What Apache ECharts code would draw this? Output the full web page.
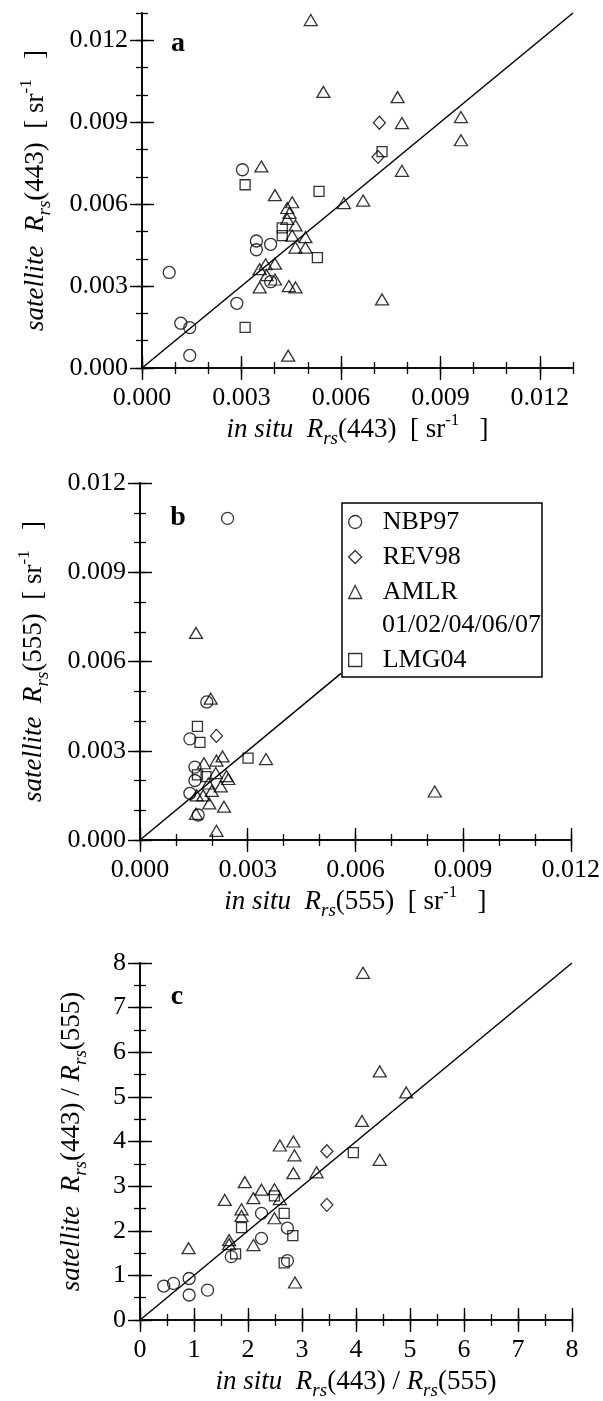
<!DOCTYPE html>
<html><head><meta charset="utf-8">
<script src="https://cdn.jsdelivr.net/npm/echarts@6/dist/echarts.min.js"></script>
<style>html,body{margin:0;padding:0;background:#fff}#c{width:603px;height:1401px}</style>
</head><body><div id="c"></div>
<script>
// ---------- Panel a: in situ vs satellite Rrs(443) [sr^-1] ----------
const aNBP97 = [[0.00303,0.00726],[0.00345,0.00465],[0.00345,0.00433],[0.00388,0.00453],[0.00082,0.00350],[0.00388,0.00316],[0.00286,0.00237],[0.00117,0.00164],[0.00144,0.00148],[0.00144,0.00046]];
const aREV98 = [[0.00716,0.00898],[0.00712,0.00773]];
const aAMLR = [[0.00509,0.01274],[0.00547,0.01011],[0.00771,0.00992],[0.00784,0.00897],[0.00962,0.00919],[0.00962,0.00834],[0.00784,0.00722],[0.00360,0.00738],[0.00401,0.00633],[0.00609,0.00604],[0.00667,0.00613],[0.00453,0.00607],[0.00438,0.00586],[0.00445,0.00568],[0.00438,0.00546],[0.00463,0.00522],[0.00453,0.00485],[0.00493,0.00479],[0.00463,0.00441],[0.00493,0.00441],[0.00373,0.00380],[0.00401,0.00382],[0.00355,0.00362],[0.00376,0.00340],[0.00401,0.00324],[0.00355,0.00295],[0.00443,0.00300],[0.00463,0.00295],[0.00724,0.00251],[0.00441,0.00045]];
const aLMG04 = [[0.00311,0.00671],[0.00534,0.00647],[0.00423,0.00513],[0.00423,0.00485],[0.00529,0.00404],[0.00311,0.00149],[0.00724,0.00792]];
const aOneToOne = [[0,0],[0.013,0.013]];
const aTicks = [0, 0.003, 0.006, 0.009, 0.012];
const aTickLabels = ['0.000','0.003','0.006','0.009','0.012'];

// ---------- Panel b: in situ vs satellite Rrs(555) [sr^-1] ----------
const bNBP97 = [[0.00244,0.01081],[0.00186,0.00464],[0.00139,0.00340],[0.00153,0.00245],[0.00153,0.00200],[0.00139,0.00157],[0.00162,0.00084]];
const bREV98 = [[0.00213,0.00350]];
const bAMLR = [[0.00156,0.00696],[0.00197,0.00475],[0.00230,0.00281],[0.00213,0.00267],[0.00178,0.00258],[0.00351,0.00272],[0.00821,0.00163],[0.00234,0.00112],[0.00193,0.00123],[0.00213,0.00031],[0.00156,0.00088],[0.00211,0.00225],[0.00241,0.00215],[0.00246,0.00205],[0.00225,0.00180],[0.00190,0.00190],[0.00158,0.00150],[0.00176,0.00150],[0.00200,0.00165]];
const bLMG04 = [[0.00160,0.00382],[0.00167,0.00328],[0.00301,0.00275],[0.00160,0.00219],[0.00184,0.00213]];
const bOneToOne = [[0,0],[0.0056,0.0056]];
const bTicks = [0, 0.003, 0.006, 0.009, 0.012];
const bTickLabels = ['0.000','0.003','0.006','0.009','0.012'];

// ---------- Panel c: in situ vs satellite Rrs(443)/Rrs(555) ----------
const cNBP97 = [[2.25,2.39],[2.73,2.06],[2.25,1.83],[0.44,0.76],[0.62,0.82],[0.91,0.93],[0.91,0.56],[1.25,0.67],[1.69,1.42],[2.73,1.33]];
const cREV98 = [[3.46,3.78],[3.46,2.58]];
const cAMLR = [[4.13,7.78],[4.44,5.57],[4.93,5.10],[4.11,4.46],[4.44,3.59],[2.59,3.91],[2.84,4.00],[2.86,3.69],[2.84,3.29],[3.27,3.31],[1.94,3.09],[2.25,2.92],[2.49,2.93],[2.10,2.73],[2.59,2.71],[1.57,2.69],[1.88,2.48],[1.88,2.33],[2.49,2.28],[0.90,1.61],[1.65,1.79],[1.65,1.70],[2.10,1.68],[2.87,0.84]];
const cLMG04 = [[3.95,3.75],[2.49,2.78],[2.67,2.39],[1.88,2.07],[2.83,1.89],[1.77,1.48],[2.67,1.28]];
const cOneToOne = [[0,0],[8,8]];
const cTicks = [0,1,2,3,4,5,6,7,8];
const cTickLabels = ['0','1','2','3','4','5','6','7','8'];

const FONT = "'Liberation Serif','Times New Roman',serif";
const BLACK = '#000';
const rich = {
  n: {fontFamily: FONT, fontSize: 27, lineHeight: 36, verticalAlign: 'middle', color: BLACK},
  it: {fontFamily: FONT, fontSize: 27, lineHeight: 36, fontStyle: 'italic', verticalAlign: 'middle', color: BLACK},
  sub: {fontFamily: FONT, fontSize: 19, lineHeight: 18, fontStyle: 'italic', verticalAlign: 'bottom', color: BLACK},
  sup: {fontFamily: FONT, fontSize: 17, lineHeight: 17, verticalAlign: 'top', color: BLACK}
};

const grids = [
  {left: 142, top: 13, width: 431, height: 355},
  {left: 140, top: 483, width: 432, height: 357},
  {left: 140, top: 963, width: 432, height: 357}
];

const xAxes = [], yAxes = [];
function addAxes(g, max, majorTicks, labels, minorStep, xName, yName, xGap, yGap) {
  const lab = v => { const i = majorTicks.findIndex(t => Math.abs(t - v) < 1e-9); return i >= 0 ? labels[i] : ''; };
  const line = {show: true, lineStyle: {color: BLACK, width: 1.6}};
  const common = {gridIndex: g, type: 'value', min: 0, max: max, splitLine: {show: false}};
  ['x','y'].forEach(dim => {
    const arr = dim === 'x' ? xAxes : yAxes;
    const sides = dim === 'x' ? ['bottom','top'] : ['left','right'];
    sides.forEach((side, si) => {
      const major = Object.assign({}, common, {
        position: side,
        interval: majorTicks[1] - majorTicks[0],
        axisLine: line,
        axisTick: {show: true, inside: true, length: 12, customValues: majorTicks, lineStyle: {color: BLACK, width: 1.4}},
        axisLabel: si === 0 ? {show: true, customValues: majorTicks, formatter: lab, fontFamily: FONT, fontSize: 26, color: BLACK, margin: dim === 'x' ? 17 : 14} : {show: false}
      });
      if (si === 0) {
        major.name = dim === 'x' ? xName : yName;
        major.nameLocation = 'middle';
        major.nameGap = dim === 'x' ? xGap : yGap;
        major.nameTextStyle = {rich: rich, fontFamily: FONT, fontSize: 27, color: BLACK};
        if (dim === 'y') major.nameRotate = 90;
      }
      arr.push(major);
      arr.push(Object.assign({}, common, {
        position: side,
        interval: minorStep,
        axisLine: {show: false},
        axisTick: {show: true, inside: true, length: 6, lineStyle: {color: BLACK, width: 1.3}},
        axisLabel: {show: false}
      }));
    });
  });
}
addAxes(0, 0.013, aTicks, aTickLabels, 0.001,
  '{it|in situ}{n|  }{it|R}{sub|rs}{n|(443)  [ sr}{sup|-1}{n|   ]}',
  '{it|satellite}{n|  }{it|R}{sub|rs}{n|(443)  [ sr}{sup|-1}{n|   ]}', 44, 88);
addAxes(1, 0.012, bTicks, bTickLabels, 0.001,
  '{it|in situ}{n|  }{it|R}{sub|rs}{n|(555)  [ sr}{sup|-1}{n|   ]}',
  '{it|satellite}{n|  }{it|R}{sub|rs}{n|(555)  [ sr}{sup|-1}{n|   ]}', 44, 88);
addAxes(2, 8, cTicks, cTickLabels, 0.5,
  '{it|in situ}{n|  }{it|R}{sub|rs}{n|(443) / }{it|R}{sub|rs}{n|(555)}',
  '{it|satellite}{n|  }{it|R}{sub|rs}{n|(443) / }{it|R}{sub|rs}{n|(555)}', 44, 50);

const sym = {NBP97: ['circle', 12], REV98: ['diamond', [12, 13]], AMLR: ['triangle', [13, 11]], LMG04: ['rect', 10]};
const markStyle = {color: 'rgba(0,0,0,0)', borderColor: BLACK, borderWidth: 1.3};
const series = [];
const panels = [
  {NBP97: aNBP97, REV98: aREV98, AMLR: aAMLR, LMG04: aLMG04, line: aOneToOne},
  {NBP97: bNBP97, REV98: bREV98, AMLR: bAMLR, LMG04: bLMG04, line: bOneToOne},
  {NBP97: cNBP97, REV98: cREV98, AMLR: cAMLR, LMG04: cLMG04, line: cOneToOne}
];
panels.forEach((p, g) => {
  series.push({type: 'line', xAxisIndex: g * 4, yAxisIndex: g * 4, data: p.line, symbol: 'none',
    lineStyle: {color: BLACK, width: 1.5}, silent: true, z: 1, animation: false});
  ['NBP97','REV98','AMLR','LMG04'].forEach(k => {
    series.push({type: 'scatter', name: k, xAxisIndex: g * 4, yAxisIndex: g * 4, data: p[k],
      symbol: sym[k][0], symbolSize: sym[k][1], itemStyle: markStyle, z: 3, animation: false,
      emphasis: {disabled: true}});
  });
});

const legendCommon = {
  orient: 'vertical', left: 348, itemWidth: 13, itemHeight: 13, itemGap: 9, padding: 0,
  selectedMode: false, z: 6,
  itemStyle: {color: 'rgba(0,0,0,0)', borderColor: BLACK, borderWidth: 1.3},
  textStyle: {fontFamily: FONT, fontSize: 26, lineHeight: 26, color: BLACK, padding: [0, 0, 0, 16]}
};

const chart = echarts.init(document.getElementById('c'), null, {renderer: 'canvas'});
chart.setOption({
  backgroundColor: '#fff',
  animation: false,
  grid: grids,
  xAxis: xAxes,
  yAxis: yAxes,
  series: series,
  legend: [
    Object.assign({}, legendCommon, {data: ['NBP97','REV98','AMLR'], top: 509}),
    Object.assign({}, legendCommon, {data: ['LMG04'], top: 647})
  ],
  graphic: [
    {type: 'rect', shape: {x: 342, y: 503, width: 200, height: 174}, style: {fill: 'none', stroke: BLACK, lineWidth: 1.5}, z: 5},
    {type: 'text', x: 382, y: 625, style: {text: '01/02/04/06/07', font: "26px " + FONT, fill: BLACK, verticalAlign: 'middle'}, z: 6},
    {type: 'text', x: 178, y: 43.5, style: {text: 'a', font: "bold 28px " + FONT, fill: BLACK, align: 'center', verticalAlign: 'middle'}, z: 6},
    {type: 'text', x: 178, y: 518, style: {text: 'b', font: "bold 28px " + FONT, fill: BLACK, align: 'center', verticalAlign: 'middle'}, z: 6},
    {type: 'text', x: 177, y: 997, style: {text: 'c', font: "bold 28px " + FONT, fill: BLACK, align: 'center', verticalAlign: 'middle'}, z: 6}
  ]
});
</script></body></html>
